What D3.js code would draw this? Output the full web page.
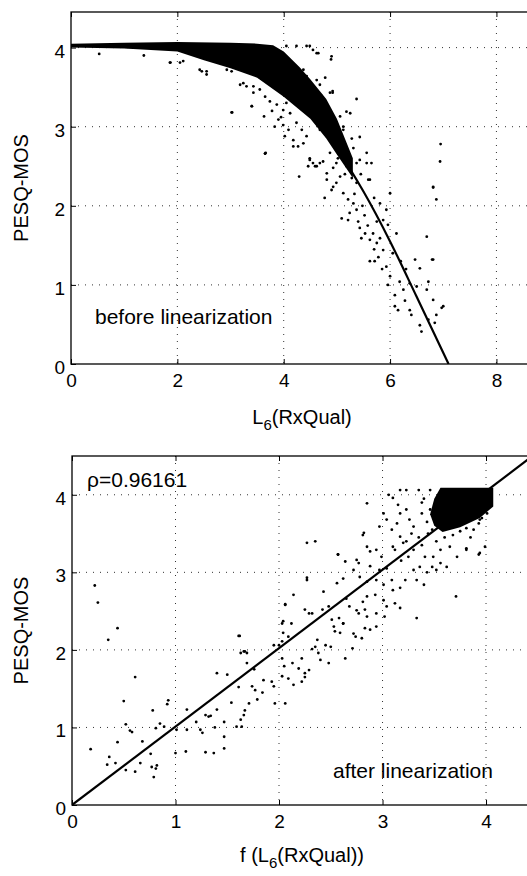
<!DOCTYPE html>
<html>
<head>
<meta charset="utf-8">
<script src="https://cdn.jsdelivr.net/npm/d3@7"></script>
<style>
  body { margin: 0; background: #fff; }
  text { font-family: "Liberation Sans", Arial, sans-serif; fill: #000; }
</style>
</head>
<body>
<div class="chart"></div>
<script>
// ---- top panel: before linearization ----
const topTicksX = [0, 2, 4, 6, 8];
const topTicksY = [0, 1, 2, 3, 4];
const topFitX = [0, 0.5, 1, 1.5, 2, 2.5, 3, 3.5, 4, 4.5, 5, 5.5, 6, 6.5, 7.1];
const topFitY = [4.02, 4.02, 4.01, 4.0, 3.98, 3.93, 3.85, 3.72, 3.5, 3.15, 2.72, 2.18, 1.55, 0.85, 0];
// outline of the solid black band of overlapping points
const topBandX = [0, 1, 2, 3, 3.5, 3.8, 4.0, 4.3, 4.5, 4.8, 5.0, 5.3, 5.3, 5.0, 4.8, 4.5, 4.0, 3.5, 3.0, 2.5, 2.0, 1.0, 0];
const topBandY = [4.05, 4.06, 4.07, 4.06, 4.05, 4.03, 3.95, 3.75, 3.6, 3.35, 3.1, 2.6, 2.35, 2.65, 2.85, 3.1, 3.38, 3.62, 3.74, 3.84, 3.95, 3.99, 4.0];
const topPoints = [
  [4.49,2.60],[4.59,2.50],[4.68,2.54],[4.81,2.41],[4.93,2.48],[5.06,2.37],[4.77,2.10],[4.90,2.20],
  [4.99,2.29],[5.12,2.16],[5.21,2.08],[5.31,2.03],[5.24,1.91],[5.37,1.95],[5.09,1.84],[5.21,1.82],
  [5.40,1.80],[5.43,1.72],[5.53,1.65],[5.46,1.59],[5.62,1.57],[5.75,1.53],[5.81,1.59],[5.87,1.44],
  [5.62,1.30],[5.71,1.30],[5.93,1.23],[6.00,1.11],[5.96,1.00],[6.09,0.87],[6.18,1.04],[6.25,0.94],
  [6.37,1.02],[6.50,0.98],[6.47,1.32],[6.56,1.21],[6.69,0.94],[6.72,1.04],[6.81,0.81],[6.15,0.68],
  [6.09,0.73],[6.37,0.68],[6.56,0.49],[6.59,0.41],[6.72,0.56],[6.84,0.52],[6.87,0.62],[7.00,0.73],
  [6.69,1.61],[6.81,1.32],[6.12,1.65],[6.00,2.16],[5.93,1.95],[6.81,2.24],[6.87,2.08],[6.94,2.56],
  [5.59,2.33],[5.65,2.54],[5.37,2.29],[5.75,1.80],[5.87,1.82],[5.96,1.76],[5.43,2.58],[5.18,2.50],
  [5.81,2.03],[5.56,2.54],[4.89,3.85],[5.37,3.35],[4.92,3.43],[3.63,3.13],[3.65,2.66],[5.43,2.87],
  [6.95,2.78],[6.81,2.23],[4.29,2.37],[4.62,3.93],[4.49,4.02],[5.06,3.13],[5.18,3.19],[4.93,2.96],
  [5.12,3.00],[4.71,3.09],[3.83,3.00],[4.02,2.88],[4.18,2.75],[4.49,2.58],[4.62,2.50],[4.87,2.67],
  [4.99,2.75],[5.31,2.73],[5.56,2.67],[5.62,2.33],[5.37,2.54],[4.81,2.33],[4.93,2.24],[0.53,3.92],
  [1.37,3.90],[1.87,3.81],[2.05,3.81],[2.42,3.72],[2.55,3.70],[3.03,3.18],[3.66,2.67],[3.40,3.26],
  [3.24,3.55],[3.43,3.51],[6.79,1.32],[6.97,0.71],[1.86,3.81],[2.11,3.83],[2.46,3.70],[2.93,3.72],
  [3.02,3.70],[3.18,3.53],[3.30,3.51],[3.43,3.43],[3.55,3.47],[3.65,3.38],[3.74,3.32],[3.87,3.28],
  [3.99,3.21],[4.12,3.17],[3.90,3.09],[3.99,3.02],[4.09,2.96],[4.24,3.05],[4.34,2.96],[4.43,2.88],
  [4.18,2.83],[4.27,2.75],[4.37,2.79],[4.55,2.54],[4.46,2.50],[4.74,2.56],[4.87,3.43],[4.92,3.45],
  [4.74,3.26],[4.81,3.17],[4.68,2.96],[4.81,2.88],[4.99,3.05],[5.12,2.96],[4.90,3.89],[4.55,3.97],
  [4.65,3.93],[4.43,4.02],[4.24,4.02],[4.05,4.02],[3.65,2.66],[3.02,3.18],[3.40,3.26],[2.55,3.66],
  [4.37,3.72],[4.43,3.64],[4.62,3.59],[4.68,3.53],[5.12,2.75],[5.18,2.66],[4.99,2.54],[5.25,3.17],
  [3.78,3.20],[3.95,3.12],[4.05,3.30],[4.20,3.40],[4.30,3.25],[4.45,3.30],[4.55,3.15],[4.62,3.05],
  [4.70,3.40],[4.78,3.62],[4.85,3.05],[4.95,2.90],[5.02,2.60],[5.08,2.80],[5.15,2.40],[5.28,2.35],
  [5.33,2.15],[5.48,2.00],[5.52,1.88],[5.58,1.75],[5.68,1.65],[5.70,1.45],[5.78,1.35],[5.85,1.20],
  [5.28,2.85],[5.45,2.40],[5.70,2.10],[6.05,1.40],[6.20,1.30],[6.30,1.20],[6.28,0.80],[6.40,0.62]
];

// ---- bottom panel: after linearization ----
const botTicksX = [0, 1, 2, 3, 4];
const botTicksY = [0, 1, 2, 3, 4];
const botFitX = [0, 4.45];
const botFitY = [0, 4.5];
const botBandX = [3.56, 4.07, 4.07, 3.94, 3.75, 3.58, 3.50, 3.46, 3.50];
const botBandY = [4.09, 4.09, 3.85, 3.70, 3.58, 3.52, 3.60, 3.75, 3.95];
const botPoints = [
  [0.22,2.83],[0.25,2.61],[0.44,2.28],[0.35,2.13],[1.62,2.18],[1.66,1.98],[1.69,1.96],[0.61,1.65],
  [0.50,1.34],[0.52,1.04],[0.56,0.96],[0.58,0.94],[0.18,0.72],[0.34,0.52],[0.36,0.62],[0.42,0.54],
  [0.44,0.81],[0.52,0.45],[0.61,0.43],[0.66,0.54],[0.68,0.82],[0.76,0.66],[0.77,0.49],[0.81,0.47],
  [0.79,0.36],[0.82,0.51],[0.78,1.22],[0.81,0.99],[0.85,1.05],[0.89,1.01],[0.92,1.30],[0.93,1.35],
  [1.00,0.67],[1.01,0.97],[1.11,0.97],[1.10,0.69],[1.11,1.23],[1.20,1.07],[1.24,0.97],[1.26,0.93],
  [1.29,0.68],[1.37,0.67],[1.29,1.16],[1.32,1.14],[1.34,1.15],[1.38,1.00],[1.40,1.23],[1.47,0.88],
  [1.47,0.73],[1.47,1.07],[1.50,1.68],[1.40,1.70],[1.54,1.32],[1.59,1.01],[1.64,1.01],[1.63,1.10],
  [1.66,1.16],[1.67,1.22],[1.71,1.31],[1.61,1.52],[1.74,1.53],[1.77,1.48],[1.79,1.36],[1.84,1.45],
  [1.85,1.61],[1.63,1.96],[1.67,1.98],[1.61,2.18],[1.76,1.75],[1.69,1.83],[1.93,1.59],[1.95,1.53],
  [1.96,1.31],[2.06,1.31],[2.03,1.66],[2.09,1.63],[2.05,1.79],[2.13,1.83],[2.14,1.55],[2.22,1.59],
  [2.03,1.89],[2.00,2.06],[2.09,2.17],[2.04,2.22],[2.03,2.34],[2.06,2.58],[2.19,1.76],[2.25,1.70],
  [2.29,1.74],[2.25,1.65],[2.22,1.89],[2.32,2.01],[2.35,2.04],[2.38,1.96],[2.40,1.87],[2.48,1.83],
  [2.37,2.13],[2.45,2.06],[2.50,2.04],[2.32,2.47],[2.42,2.52],[2.48,2.56],[2.51,2.39],[2.58,2.41],
  [2.62,2.34],[2.54,2.24],[2.59,2.22],[2.64,1.89],[2.71,2.02],[2.74,2.17],[2.80,2.15],[2.77,2.47],
  [2.83,2.52],[2.83,2.28],[2.88,2.26],[2.25,2.52],[2.29,2.47],[2.27,3.38],[2.35,3.40],[2.27,2.90],
  [2.43,2.75],[2.56,2.86],[2.62,2.92],[2.57,3.23],[2.81,3.48],[2.85,3.89],[2.72,3.03],[2.77,3.12],
  [2.85,3.33],[2.88,3.27],[2.94,3.29],[2.99,3.20],[3.04,3.68],[3.09,3.55],[3.14,3.63],[3.06,4.00],
  [3.10,3.96],[3.15,3.87],[3.17,4.06],[3.23,4.06],[3.35,4.06],[3.17,3.76],[3.23,3.81],[3.26,3.68],
  [2.88,3.08],[2.97,3.03],[3.04,3.05],[2.94,2.90],[3.01,2.84],[3.09,2.90],[2.85,2.69],[2.93,2.71],
  [3.01,2.64],[3.10,2.77],[3.17,2.80],[3.22,2.90],[3.30,3.03],[3.36,3.07],[3.43,3.00],[3.33,2.90],
  [3.40,2.84],[3.48,3.07],[3.52,3.03],[3.56,3.12],[3.62,3.07],[3.41,3.20],[3.49,3.20],[3.56,3.29],
  [3.65,3.33],[3.72,3.20],[3.81,3.29],[3.94,3.25],[3.99,3.33],[3.71,2.69],[3.33,2.41],[2.65,2.66],
  [2.68,2.56],[2.75,2.51],[2.81,2.62],[2.85,2.43],[2.94,2.47],[3.04,2.56],[3.12,2.60],[3.17,2.54],
  [2.53,2.30],[2.62,2.34],[2.72,2.21],[2.94,2.30],[3.02,2.43],[2.64,3.14],[2.85,2.88],[2.78,2.94],
  [3.23,3.40],[3.17,3.46],[3.10,3.33],[2.97,3.59],[3.01,3.76],[3.38,3.76],[3.43,3.65],[3.48,3.55],
  [3.62,3.59],[3.72,3.63],[3.81,3.57],[3.88,3.55],[3.93,3.63],[4.01,3.76],[3.96,3.70],[3.12,3.29],
  [2.06,2.59],[2.14,2.71],[2.27,2.93],[2.57,3.23],[2.75,3.16],[2.82,3.51],[3.93,3.23],[3.81,3.31],
  [2.04,2.37],[2.12,2.34],[1.95,2.06],[2.03,2.11],[3.20,3.38],[3.30,3.29],[3.30,3.59],[3.46,3.81],
  [3.52,3.40],[3.75,3.53],[3.94,3.68],[3.54,3.98],[3.46,4.06],[3.40,3.95],[3.28,3.50],[3.35,3.45],
  [3.38,3.35],[3.44,3.50],[3.60,3.45],[3.68,3.48],[3.85,3.45],[3.25,3.20],[3.18,3.15],[3.38,3.90]
];

const width = 527, height = 876;
const font = "'Liberation Sans', Arial, sans-serif";

const svg = d3.select(".chart")
    .append("svg")
    .attr("width", width)
    .attr("height", height);

function drawPanel(opt) {
    const x = d3.scaleLinear().domain(opt.xDomain).range(opt.xRange);
    const y = d3.scaleLinear().domain(opt.yDomain).range(opt.yRange);
    const g = svg.append("g");
    const left = opt.xRange[0], right = opt.xRange[1];
    const top = opt.yRange[1], bottom = opt.yRange[0];

    // clip so marks stay inside the axes box
    g.append("clipPath").attr("id", opt.id)
        .append("rect")
        .attr("x", left).attr("y", top)
        .attr("width", right - left).attr("height", bottom - top);

    // dotted grid, matlab style
    g.append("g").selectAll("line")
        .data(opt.ticksX.filter(d => d > 0))
        .enter().append("line")
        .attr("x1", d => x(d)).attr("x2", d => x(d))
        .attr("y1", top).attr("y2", bottom)
        .attr("stroke", "#333").attr("stroke-width", 1)
        .attr("stroke-dasharray", "1,6");
    g.append("g").selectAll("line")
        .data(opt.ticksY.filter(d => d > 0))
        .enter().append("line")
        .attr("x1", left).attr("x2", right)
        .attr("y1", d => y(d)).attr("y2", d => y(d))
        .attr("stroke", "#333").attr("stroke-width", 1)
        .attr("stroke-dasharray", "1,6");

    const marks = g.append("g").attr("clip-path", `url(#${opt.id})`);

    // dense part of the cloud
    marks.append("path")
        .datum(d3.zip(opt.bandX, opt.bandY))
        .attr("d", d3.line().x(d => x(d[0])).y(d => y(d[1])).curve(d3.curveLinearClosed))
        .attr("fill", "#000");

    marks.append("g").selectAll("circle")
        .data(opt.points)
        .enter().append("circle")
        .attr("cx", d => x(d[0]))
        .attr("cy", d => y(d[1]))
        .attr("r", 1.4)
        .attr("fill", "#000");

    marks.append("path")
        .datum(d3.zip(opt.fitX, opt.fitY))
        .attr("d", d3.line().x(d => x(d[0])).y(d => y(d[1])).curve(d3.curveMonotoneX))
        .attr("fill", "none")
        .attr("stroke", "#000")
        .attr("stroke-width", 2.2);

    // box
    g.append("rect")
        .attr("x", left).attr("y", top)
        .attr("width", right - left).attr("height", bottom - top)
        .attr("fill", "none").attr("stroke", "#000").attr("stroke-width", 1.3);

    // ticks point inward
    const xAxis = g.append("g")
        .attr("transform", `translate(0,${bottom})`)
        .call(d3.axisBottom(x).tickValues(opt.ticksX).tickSize(-5).tickPadding(10).tickFormat(d3.format("d")));
    xAxis.select(".domain").remove();
    xAxis.selectAll("text").style("font-size", "19px").style("font-family", font);

    const xTop = g.append("g")
        .attr("transform", `translate(0,${top})`)
        .call(d3.axisTop(x).tickValues(opt.ticksX).tickSize(-5).tickFormat(""));
    xTop.select(".domain").remove();

    const yAxis = g.append("g")
        .attr("transform", `translate(${left},0)`)
        .call(d3.axisLeft(y).tickValues(opt.ticksY).tickSize(-5).tickPadding(6).tickFormat(d3.format("d")));
    yAxis.select(".domain").remove();
    yAxis.selectAll("text").style("font-size", "19px").style("font-family", font).attr("dy", "0.5em");

    // y label
    g.append("text")
        .attr("transform", `translate(28,${(top + bottom) / 2}) rotate(-90)`)
        .attr("text-anchor", "middle")
        .style("font-size", "20px")
        .text("PESQ-MOS");

    // x label with subscript 6
    const xl = g.append("text")
        .attr("x", 302)
        .attr("y", bottom + opt.xLabelOffset)
        .attr("text-anchor", "middle")
        .style("font-size", "20px");
    xl.append("tspan").text(opt.xLabelPre);
    xl.append("tspan").attr("dy", 6).style("font-size", "15px").text("6");
    xl.append("tspan").attr("dy", -6).text(opt.xLabelPost);

    g.append("text")
        .attr("x", opt.note.x).attr("y", opt.note.y)
        .style("font-size", "21px")
        .text(opt.note.text);
}

drawPanel({
    id: "clipTop",
    xDomain: [0, 8.65], xRange: [71, 531],
    yDomain: [0, 4.45], yRange: [364, 12],
    ticksX: topTicksX, ticksY: topTicksY,
    fitX: topFitX, fitY: topFitY,
    bandX: topBandX, bandY: topBandY,
    points: topPoints,
    xLabelPre: "L", xLabelPost: "(RxQual)", xLabelOffset: 60,
    note: {x: 95, y: 324, text: "before linearization"}
});

drawPanel({
    id: "clipBot",
    xDomain: [0, 4.45], xRange: [72, 532.6],
    yDomain: [0, 4.5], yRange: [805, 456],
    ticksX: botTicksX, ticksY: botTicksY,
    fitX: botFitX, fitY: botFitY,
    bandX: botBandX, bandY: botBandY,
    points: botPoints,
    xLabelPre: "f (L", xLabelPost: "(RxQual))", xLabelOffset: 57,
    note: {x: 333, y: 778, text: "after linearization"}
});

svg.append("text")
    .attr("x", 87).attr("y", 487)
    .style("font-size", "21px")
    .text("ρ=0.96161");
</script>
</body>
</html>
